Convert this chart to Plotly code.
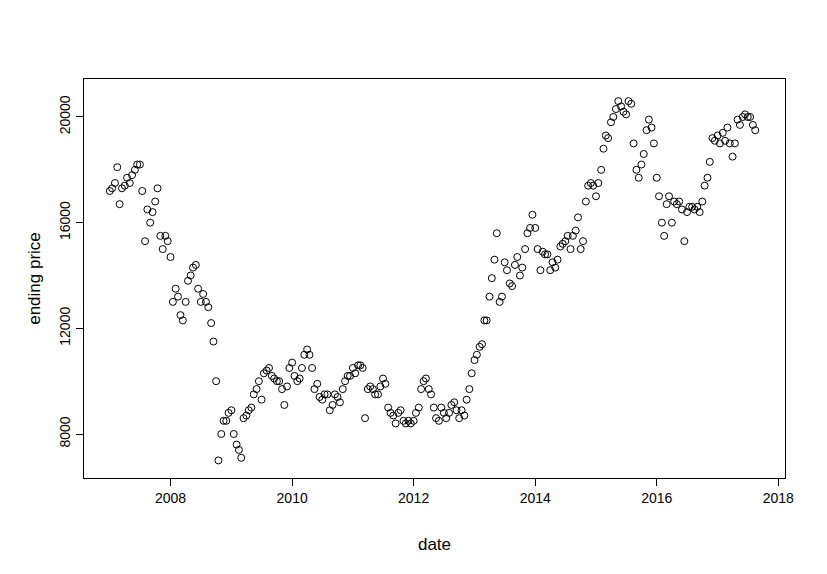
import pandas as pd
import plotly.graph_objects as go

# Semi-monthly closing prices (1st and 15th of each month)
p2007 = [17200,17300,17500,18100,16700,17300,17400,17700,17500,17800,18000,18200,
         18200,17200,15300,16500,16000,16400,16800,17300,15500,15000,15500,15300]
p2008 = [14700,13000,13500,13200,12500,12300,13000,13800,14000,14300,14400,13500,
         13000,13300,13000,12800,12200,11500,10000,7000,8000,8500,8500,8800]
p2009 = [8900,8000,7600,7400,7100,8600,8700,8900,9000,9500,9700,10000,
         9300,10300,10400,10500,10200,10100,10000,10000,9700,9100,9800,10500]
p2010 = [10700,10200,10000,10100,10500,11000,11200,11000,10500,9700,9900,9400,
         9300,9500,9500,8900,9100,9500,9400,9200,9700,10000,10200,10200]
p2011 = [10500,10300,10600,10600,10500,8600,9700,9800,9700,9500,9500,9800,
         10100,9900,9000,8800,8700,8400,8800,8900,8500,8400,8500,8400]
p2012 = [8500,8800,9000,9700,10000,10100,9700,9500,9000,8600,8500,9000,
         8800,8600,8800,9100,9200,8900,8600,8900,8700,9300,9700,10300]
p2013 = [10800,11000,11300,11400,12300,12300,13200,13900,14600,15600,13000,13200,
         14500,14200,13700,13600,14400,14700,14000,14300,15000,15600,15800,16300]
p2014 = [15800,15000,14200,14900,14800,14800,14200,14500,14300,14600,15100,15200,
         15300,15500,15000,15500,15700,16200,15000,15300,16800,17400,17500,17400]
p2015 = [17000,17500,18000,18800,19300,19200,19800,20000,20300,20600,20400,20200,
         20100,20600,20500,19000,18000,17700,18200,18600,19500,19900,19600,19000]
p2016 = [17700,17000,16000,15500,16700,17000,16000,16800,16700,16800,16500,15300,
         16400,16600,16600,16500,16600,16400,16800,17400,17700,18300,19200,19100]
p2017 = [19300,19000,19400,19100,19600,19000,18500,19000,19900,19700,20000,20100,
         20000,20000,19700,19500]

prices = p2007 + p2008 + p2009 + p2010 + p2011 + p2012 + p2013 + p2014 + p2015 + p2016 + p2017
dates = []
for y in range(2007, 2018):
    for m in range(1, 13):
        for d in (1, 15):
            dates.append(pd.Timestamp(y, m, d))
dates = dates[:len(prices)]

y_ticks = [8000, 12000, 16000, 20000]
x_ticks = ["2008", "2010", "2012", "2014", "2016", "2018"]

fig = go.Figure(go.Scatter(
    x=dates, y=prices, mode="markers",
    marker=dict(symbol="circle-open", size=7, color="black", line=dict(width=1)),
))
font = dict(family="Liberation Sans, Arial", size=14, color="black")
fig.update_layout(
    width=827, height=574, paper_bgcolor="white", plot_bgcolor="white",
    margin=dict(l=76, r=50, t=71, b=104), showlegend=False, font=font,
    xaxis=dict(range=["2006-07-30", "2018-02-10"], showgrid=False, zeroline=False,
               automargin=False, tickfont=dict(size=14),
               showline=True, mirror=True, linecolor="black", linewidth=1,
               ticks="outside", ticklen=7, tickcolor="black",
               tickvals=[pd.Timestamp(int(t), 1, 1) for t in x_ticks], ticktext=x_ticks,
               title=dict(text="date", standoff=33)),
    yaxis=dict(range=[6335, 21438], showgrid=False, zeroline=False,
               automargin=False, tickfont=dict(size=14),
               showline=True, mirror=True, linecolor="black", linewidth=1,
               ticks="outside", ticklen=7, tickcolor="black",
               tickvals=y_ticks, ticktext=[str(v) for v in y_ticks], tickangle=-90,
               title=dict(text="ending price", standoff=12)),
)
fig.write_html("out.html")
